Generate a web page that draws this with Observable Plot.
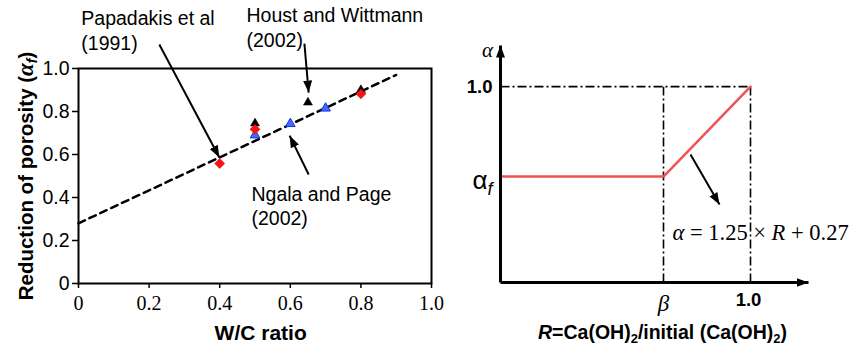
<!DOCTYPE html>
<html>
<head>
<meta charset="utf-8">
<script src="https://cdn.jsdelivr.net/npm/d3@7"></script>
<script src="https://cdn.jsdelivr.net/npm/@observablehq/plot@0.6"></script>
<style>
  body { margin: 0; background: #fff; }
  #wrap { position: relative; width: 851px; height: 347px; overflow: hidden; background: #fff; }
  #left, #right { position: absolute; top: 0; }
  #left { left: 0; z-index: 2; }
  #right { left: 440px; z-index: 1; }
</style>
</head>
<body>
<div id="wrap"><div id="left"></div><div id="right"></div></div>
<script>
// ---------- Left panel data ----------
const wcTicks = [0, 0.2, 0.4, 0.6, 0.8, 1.0];
const porTicks = [0, 0.2, 0.4, 0.6, 0.8, 1.0];
const papadakisWC = [0.4, 0.5, 0.8];
const papadakisAlpha = [0.558, 0.717, 0.882];
const ngalaWC = [0.5, 0.6, 0.7];
const ngalaAlpha = [0.69, 0.743, 0.815];
const houstWC = [0.5, 0.65, 0.8];
const houstAlpha = [0.745, 0.842, 0.9];
const fitWC = [0, 0.9];
const fitAlpha = [0.28, 0.97];
const leftNotes = ["Papadakis et al", "(1991)", "Houst and Wittmann", "(2002)", "Ngala and Page", "(2002)"];
const leftNoteX = [0.008, 0.008, 0.476, 0.476, 0.49, 0.49];
const leftNoteY = [1.233, 1.116, 1.247, 1.13, 0.414, 0.302];
const leftArrowFrom = [[0.229, 1.112], [0.64, 1.116], [0.652, 0.507]];
const leftArrowTo = [[0.399, 0.586], [0.652, 0.888], [0.598, 0.688]];

// ---------- Right panel data ----------
const beta = 0.652;
const alphaF = 0.541;
const curveR = [0, beta, 1.0];
const curveAlpha = [alphaF, alphaF, 1.0];
const guideFrom = [[0, 1], [beta, 0], [1, 0]];
const guideTo = [[1, 1], [beta, 1], [1, 1]];
const axisEnds = [[1.232, 0], [0, 1.21]];
const eqArrowFrom = [0.76, 0.653];
const eqArrowTo = [0.876, 0.398];

const SANS = "'Liberation Sans', Arial, sans-serif";
const SERIF = "'Liberation Serif', 'Times New Roman', serif";

function filledArrow() {
  const m = d3.create("svg:marker")
    .attr("viewBox", "-7 -6 12 12")
    .attr("markerWidth", 12)
    .attr("markerHeight", 12)
    .attr("markerUnits", "userSpaceOnUse")
    .attr("refX", 5).attr("refY", 0)
    .attr("orient", "auto");
  m.append("path").attr("d", "M-7,-4.5L5,0L-7,4.5Z").attr("fill", "black").attr("stroke", "none");
  return m.node();
}

const mk = (xs, ys) => xs.map((x, i) => ({x, y: ys[i]}));

// ---------- Left plot ----------
const left = Plot.plot({
  width: 440, height: 347,
  marginLeft: 78, marginRight: 9, marginTop: 68, marginBottom: 64,
  x: {domain: [0, 1]},
  y: {domain: [0, 1]},
  style: {background: "transparent", overflow: "visible"},
  marks: [
    Plot.axisY({ticks: porTicks, tickFormat: d => d === 0 ? "0" : d.toFixed(1), tickSize: 6, tickPadding: 3,
      fontSize: 19.5, fontFamily: SANS, label: null, stroke: "black", strokeWidth: 1.5, color: "black"}),
    Plot.axisX({ticks: wcTicks, tickFormat: d => d === 0 ? "0" : d.toFixed(1), tickSize: 5, tickPadding: 7,
      fontSize: 20, fontFamily: SERIF, label: null, stroke: "black", strokeWidth: 1.5, color: "black"}),
    Plot.frame({stroke: "black", strokeWidth: 2}),
    Plot.line(mk(fitWC, fitAlpha), {x: "x", y: "y", stroke: "black", strokeWidth: 2.5, strokeDasharray: "7,5"}),
    Plot.dot(mk(houstWC, houstAlpha), {x: "x", y: "y", symbol: "triangle2", r: 4.3, fill: "black", stroke: "black", strokeWidth: 0.5}),
    Plot.dot(mk(ngalaWC, ngalaAlpha), {x: "x", y: "y", symbol: "triangle2", r: 4.6, fill: "#3f6cff", stroke: "#1b2fd6", strokeWidth: 1}),
    Plot.dot(mk(papadakisWC, papadakisAlpha), {x: "x", y: "y", symbol: "diamond2", r: 4.5, fill: "#ff1010", stroke: "#cc0000", strokeWidth: 0.5}),
    Plot.link(leftArrowFrom.map((f, i) => ({x1: f[0], y1: f[1], x2: leftArrowTo[i][0], y2: leftArrowTo[i][1]})),
      {x1: "x1", y1: "y1", x2: "x2", y2: "y2", stroke: "black", strokeWidth: 2, markerEnd: filledArrow}),
    Plot.text(leftNotes.map((t, i) => ({t, x: leftNoteX[i], y: leftNoteY[i]})),
      {x: "x", y: "y", text: "t", textAnchor: "start", fontSize: 19.5, fontFamily: SANS, fill: "black"}),
    Plot.text([{t: "Reduction of porosity (αf)", x: -0.148, y: 0.5}],
      {x: "x", y: "y", text: "t", rotate: -90, fontSize: 20.5, fontWeight: "bold", fontFamily: SANS, fill: "black"}),
    Plot.text([{t: "W/C ratio", x: 0.516, y: -0.233}],
      {x: "x", y: "y", text: "t", fontSize: 21, fontWeight: "bold", fontFamily: SANS, fill: "black"})
  ]
});
document.getElementById("left").appendChild(left);

// ---------- Right plot ----------
const right = Plot.plot({
  width: 411, height: 347,
  marginLeft: 60, marginRight: 43, marginTop: 45, marginBottom: 65,
  x: {domain: [0, 1.232], axis: null},
  y: {domain: [0, 1.21], axis: null},
  style: {background: "transparent", overflow: "visible"},
  marks: [
    Plot.link(guideFrom.map((f, i) => ({x1: f[0], y1: f[1], x2: guideTo[i][0], y2: guideTo[i][1]})),
      {x1: "x1", y1: "y1", x2: "x2", y2: "y2", stroke: "black", strokeWidth: 1.6, strokeDasharray: "9,3,2,3"}),
    Plot.line(mk(curveR, curveAlpha), {x: "x", y: "y", stroke: "#f25252", strokeWidth: 2.5}),
    Plot.link(axisEnds.map(e => ({x1: 0, y1: 0, x2: e[0], y2: e[1]})),
      {x1: "x1", y1: "y1", x2: "x2", y2: "y2", stroke: "black", strokeWidth: 3, markerEnd: filledArrow}),
    Plot.link([{x1: eqArrowFrom[0], y1: eqArrowFrom[1], x2: eqArrowTo[0], y2: eqArrowTo[1]}],
      {x1: "x1", y1: "y1", x2: "x2", y2: "y2", stroke: "black", strokeWidth: 2, markerEnd: filledArrow}),
    Plot.text([{t: "α", x: -0.052, y: 1.184}],
      {x: "x", y: "y", text: "t", fontSize: 21, fontStyle: "italic", fontFamily: SERIF, fill: "black"}),
    Plot.text([{t: "1.0", x: 0, y: 1}],
      {x: "x", y: "y", text: "t", textAnchor: "end", dx: -8, fontSize: 18.5, fontWeight: "bold", fontFamily: SANS, fill: "black"}),
    Plot.text([{t: "αf", x: 0, y: alphaF}],
      {x: "x", y: "y", text: "t", textAnchor: "end", dx: -8, dy: 4, fontSize: 26, fontFamily: SANS, fill: "black"}),
    Plot.text([{t: "β", x: beta, y: -0.107}],
      {x: "x", y: "y", text: "t", fontSize: 23, fontStyle: "italic", fontFamily: SERIF, fill: "black"}),
    Plot.text([{t: "1.0", x: 0.992, y: -0.092}],
      {x: "x", y: "y", text: "t", fontSize: 18.5, fontWeight: "bold", fontFamily: SANS, fill: "black"}),
    Plot.text([{t: "α = 1.25 × R + 0.27", x: 0.688, y: 0.255}],
      {x: "x", y: "y", text: "t", textAnchor: "start", fontSize: 22.5, fontFamily: SERIF, fill: "black"}),
    Plot.text([{t: "R=Ca(OH)2/initial (Ca(OH)2)", x: 0.648, y: -0.255}],
      {x: "x", y: "y", text: "t", fontSize: 19.5, fontWeight: "bold", fontFamily: SANS, fill: "black"})
  ]
});
document.getElementById("right").appendChild(right);

// ---------- rich text (italics / subscripts) ----------
function rich(svg, content, parts) {
  d3.select(svg).selectAll("text").each(function () {
    if (this.textContent !== content || this.querySelector("tspan")) return;
    const t = d3.select(this);
    t.text(null);
    for (const p of parts) {
      const s = t.append("tspan").text(p.s);
      if (p.i) s.attr("font-style", "italic");
      if (p.fs) s.attr("font-size", p.fs);
      if (p.dy) s.attr("dy", p.dy);
      if (p.ff) s.attr("font-family", p.ff);
    }
  });
}
rich(left, "Reduction of porosity (αf)", [
  {s: "Reduction of porosity ("}, {s: "α", i: true, ff: SERIF, fs: 23}, {s: "f", i: true, fs: 14, dy: 4}, {s: ")", dy: -4}
]);
rich(right, "αf", [{s: "α"}, {s: "f", i: true, fs: 18, dy: 6}]);
rich(right, "α = 1.25 × R + 0.27", [
  {s: "α", i: true}, {s: " = 1.25 × "}, {s: "R", i: true}, {s: " + 0.27"}
]);
rich(right, "R=Ca(OH)2/initial (Ca(OH)2)", [
  {s: "R", i: true}, {s: "=Ca(OH)"}, {s: "2", fs: 13, dy: 4}, {s: "/initial (Ca(OH)", dy: -4},
  {s: "2", fs: 13, dy: 4}, {s: ")", dy: -4}
]);
</script>
</body>
</html>
